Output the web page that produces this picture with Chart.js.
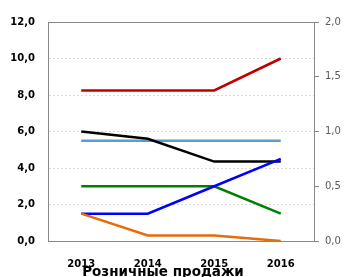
<!DOCTYPE html>
<html>
<head>
<meta charset="utf-8">
<script src="https://cdn.jsdelivr.net/npm/chart.js@4"></script>
<style>
  html, body { margin: 0; padding: 0; background: #fff; }
  #wrap { width: 346px; height: 277px; }
</style>
</head>
<body>
<div id="wrap"><canvas id="salesChart"></canvas></div>
<script>
// Data
const years = ['2013', '2014', '2015', '2016'];
const redSeries = [8.25, 8.25, 8.25, 10.0];
const blackSeries = [6.0, 5.6, 4.35, 4.35];
const lightBlueSeries = [5.5, 5.5, 5.5, 5.5];
const greenSeries = [3.0, 3.0, 3.0, 1.5];
const blueSeries = [1.5, 1.5, 3.0, 4.5];
const orangeSeries = [1.5, 0.3, 0.3, 0.0];
const leftTicks = [0, 2, 4, 6, 8, 10, 12];
const rightTicks = [0, 0.5, 1.0, 1.5, 2.0];
const chartTitle = 'Розничные продажи';

function fmt(value) {
    return value.toFixed(1).replace('.', ',');
}

// Title sits low and a bit left of centre, over the year labels
const bottomTitle = {
    id: 'bottomTitle',
    afterDraw: function(chart) {
        const c = chart.ctx;
        c.save();
        c.font = "bold 13.5px 'DejaVu Sans', sans-serif";
        c.fillStyle = '#000';
        c.textAlign = 'center';
        c.textBaseline = 'alphabetic';
        c.fillText(chartTitle, 163, 276);
        c.restore();
    }
};

window.addEventListener('load', function() {
    const ctx = document.getElementById('salesChart').getContext('2d');

    function line(data, color) {
        return {
            data: data,
            borderColor: color,
            backgroundColor: color,
            borderWidth: 2.5,
            pointRadius: 0,
            tension: 0,
            yAxisID: 'y'
        };
    }

    const salesChart = new Chart(ctx, {
        type: 'line',
        data: {
            labels: years,
            // first dataset is drawn on top
            datasets: [
                line(orangeSeries, '#E46C0A'),
                line(blueSeries, '#0000FF'),
                line(blackSeries, '#000000'),
                line(greenSeries, '#008000'),
                line(lightBlueSeries, '#5B9BD5'),
                line(redSeries, '#C00000')
            ]
        },
        options: {
            responsive: true,
            maintainAspectRatio: false,
            animation: false,
            layout: {
                padding: { top: 22, left: 0, right: 0, bottom: 0 }
            },
            scales: {
                x: {
                    offset: true,
                    grid: { display: false, drawTicks: false },
                    border: { color: '#898989', width: 1 },
                    ticks: {
                        color: '#000',
                        padding: 17,
                        maxRotation: 0,
                        font: { family: "'DejaVu Sans', sans-serif", size: 10, weight: 'bold' }
                    },
                    afterFit: function(scale) { scale.height = 36; }
                },
                xTop: {
                    position: 'top',
                    offset: true,
                    grid: { display: false, drawTicks: false },
                    border: { color: '#898989', width: 1 },
                    ticks: { display: false },
                    afterFit: function(scale) { scale.height = 0; }
                },
                y: {
                    position: 'left',
                    min: 0,
                    max: 12,
                    afterBuildTicks: function(scale) {
                        scale.ticks = leftTicks.map(v => ({ value: v }));
                    },
                    grid: { color: '#D9D9D9', lineWidth: 1, drawTicks: false },
                    border: { color: '#898989', width: 1, dash: [2, 2] },
                    ticks: {
                        color: '#000',
                        padding: 13,
                        font: { family: "'DejaVu Sans', sans-serif", size: 10, weight: 'bold' },
                        callback: function(value) { return fmt(value); }
                    },
                    afterFit: function(scale) { scale.width = 48; }
                },
                y1: {
                    position: 'right',
                    min: 0,
                    max: 2,
                    afterBuildTicks: function(scale) {
                        scale.ticks = rightTicks.map(v => ({ value: v }));
                    },
                    grid: {
                        drawOnChartArea: false,
                        drawTicks: true,
                        tickLength: 5,
                        tickColor: '#898989'
                    },
                    border: { color: '#898989', width: 1 },
                    ticks: {
                        color: '#595959',
                        padding: 6,
                        font: { family: "'DejaVu Sans', sans-serif", size: 10 },
                        callback: function(value) { return fmt(value); }
                    },
                    afterFit: function(scale) { scale.width = 32; }
                }
            },
            plugins: {
                legend: { display: false },
                tooltip: { enabled: false },
                title: { display: false }
            }
        },
        plugins: [bottomTitle]
    });
});
</script>
</body>
</html>
